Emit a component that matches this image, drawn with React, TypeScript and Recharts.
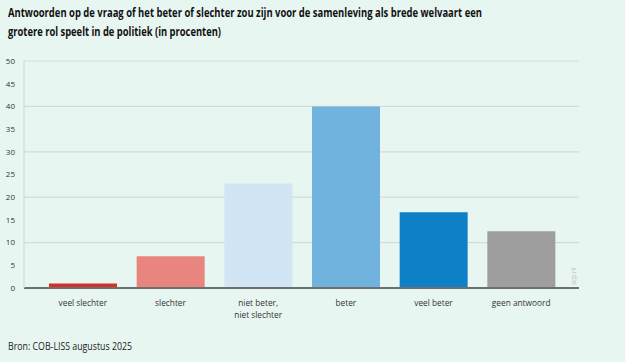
import React from "react";
import { BarChart, Bar, XAxis, YAxis, CartesianGrid, Cell } from "recharts";

const categories = ["veel slechter", "slechter", "niet beter,\nniet slechter", "beter", "veel beter", "geen antwoord"];
const values = [1, 7, 23, 40, 16.7, 12.5];
const colors = ["#d4302a", "#e8857e", "#d1e5f4", "#6fb3de", "#0e80c8", "#9e9e9e"];
const yTicks = [0, 5, 10, 15, 20, 25, 30, 35, 40, 45, 50];
const titleLines = [
  "Antwoorden op de vraag of het beter of slechter zou zijn voor de samenleving als brede welvaart een",
  "grotere rol speelt in de politiek (in procenten)",
];
const source = "Bron: COB-LISS augustus 2025";

const data = categories.map((c, i) => ({ name: c, value: values[i] }));

const FONT = "'Open Sans', 'Noto Sans', sans-serif";

const XTick = (props: any) => {
  const { x, y, payload } = props;
  const lines = String(payload.value).split("\n");
  return (
    <text x={x} y={y} textAnchor="middle" fontFamily={FONT} fontSize={8.3} fill="#333">
      {lines.map((l, i) => (
        <tspan key={i} x={x} dy={i === 0 ? 10 : 12}>{l}</tspan>
      ))}
    </text>
  );
};

export default function App() {
  return (
    <div style={{ position: "absolute", left: 0, top: 0, width: 625, height: 362, background: "#e8f6f1", fontFamily: FONT, overflow: "hidden" }}>
      <div style={{ position: "absolute", left: 0, top: 0 }}>
        <BarChart width={625} height={325} data={data} margin={{ top: 61, right: 46, left: 0, bottom: 7 }}>
          <CartesianGrid vertical={false} stroke="#d6d9d8" strokeWidth={1.2} />
          <XAxis
            dataKey="name"
            tick={<XTick />}
            tickLine={false}
            axisLine={{ stroke: "#6f6f6f", strokeWidth: 2 }}
            interval={0}
            padding={{ left: 15, right: 14 }}
            height={30}
          />
          <YAxis
            domain={[0, 50]}
            ticks={yTicks}
            width={24}
            tickLine={false}
            axisLine={{ stroke: "#d6d9d8", strokeWidth: 1.2 }}
            tick={{ fontSize: 8, fill: "#333", fontFamily: FONT }}
            tickMargin={3}
          />
          <YAxis
            yAxisId="r"
            orientation="right"
            domain={[0, 50]}
            ticks={yTicks}
            width={0}
            tick={false}
            tickLine={false}
            axisLine={{ stroke: "#d6d9d8", strokeWidth: 1.2 }}
          />
          <Bar dataKey="value" barSize={68} isAnimationActive={false}>
            {data.map((d, i) => (
              <Cell key={i} fill={colors[i]} />
            ))}
          </Bar>
        </BarChart>
      </div>
      <svg style={{ position: "absolute", left: 0, top: 0 }} width={625} height={362}>
        <text x={8} y={16.5} fontSize={11.8} fontWeight={700} fill="#111" fontFamily={FONT} textLength={474} lengthAdjust="spacingAndGlyphs">{titleLines[0]}</text>
        <text x={8} y={35.5} fontSize={11.8} fontWeight={700} fill="#111" fontFamily={FONT} textLength={213} lengthAdjust="spacingAndGlyphs">{titleLines[1]}</text>
        <text x={576} y={285} transform="rotate(-90 576 285)" fontSize={6.5} fill="#b8c0be" fontFamily={FONT}>scp.nl</text>
        <text x={8} y={349.5} fontSize={10.5} fill="#222" fontFamily={FONT} textLength={124} lengthAdjust="spacingAndGlyphs">{source}</text>
      </svg>
    </div>
  );
}
